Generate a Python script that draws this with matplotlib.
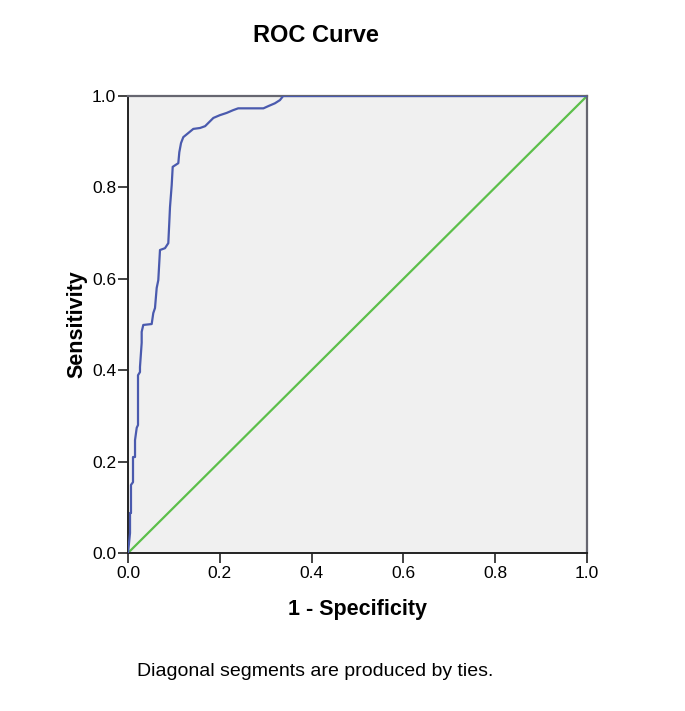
import matplotlib
matplotlib.use("Agg")
import matplotlib.pyplot as plt

# ROC curve vertices (1 - specificity, sensitivity)
fpr = [0.0, 0.0044, 0.0044, 0.0065, 0.0065, 0.0109, 0.0109, 0.0153, 0.0153, 0.019, 0.0218,
       0.0218, 0.0261, 0.0261, 0.0298, 0.0298, 0.0333, 0.0516, 0.0551, 0.0588, 0.0625,
       0.066, 0.0697, 0.0806, 0.0878, 0.090, 0.0915, 0.0952, 0.0974, 0.1096, 0.1118,
       0.1155, 0.1205, 0.1314, 0.1423, 0.157, 0.168, 0.175, 0.186, 0.200, 0.215, 0.229,
       0.240, 0.295, 0.306, 0.320, 0.331, 0.338, 1.0]
tpr = [0.0, 0.0438, 0.0875, 0.0875, 0.149, 0.155, 0.210, 0.210, 0.247, 0.274, 0.280,
       0.389, 0.396, 0.407, 0.460, 0.484, 0.499, 0.501, 0.525, 0.536, 0.580,
       0.597, 0.663, 0.667, 0.678, 0.724, 0.757, 0.805, 0.845, 0.853, 0.877,
       0.897, 0.910, 0.919, 0.928, 0.930, 0.934, 0.941, 0.952, 0.958, 0.963, 0.969,
       0.973, 0.973, 0.978, 0.984, 0.991, 1.0, 1.0]
ref_x = [0.0, 1.0]
ref_y = [0.0, 1.0]
ticks = [0.0, 0.2, 0.4, 0.6, 0.8, 1.0]
tick_labels = ["0.0", "0.2", "0.4", "0.6", "0.8", "1.0"]

plt.rcParams['font.family'] = ['Liberation Sans', 'DejaVu Sans']

fig = plt.figure(figsize=(6.85, 7.11), dpi=100)
fig.patch.set_facecolor('white')
ax = fig.add_axes([128/685, 1 - 553/711, 459/685, 457/711])
ax.set_facecolor('#f0f0f0')

ax.plot(ref_x, ref_y, color='#5cbf4a', lw=1.6, zorder=2)
ax.plot(fpr, tpr, color='#4a5aae', lw=1.6, zorder=3)

ax.set_xlim(0, 1)
ax.set_ylim(0, 1)
ax.set_xticks(ticks)
ax.set_xticklabels(tick_labels)
ax.set_yticks(ticks)
ax.set_yticklabels(tick_labels)
ax.tick_params(direction='out', length=7.5, width=1.2, labelsize=12.5, color='#222222')
ax.tick_params(axis='x', pad=2)
ax.tick_params(axis='y', pad=1)

for s in ['left', 'bottom']:
    ax.spines[s].set_color('#222222')
    ax.spines[s].set_linewidth(1.4)
for s in ['top', 'right']:
    ax.spines[s].set_color('#666670')
    ax.spines[s].set_linewidth(1.6)

fig.text(357/685, 1 - 609/711, '1 - Specificity', fontsize=15.5, fontweight='bold',
         ha='center', va='center')
fig.text(77/685, 1 - 324/711, 'Sensitivity', fontsize=15.5, fontweight='bold',
         ha='center', va='center', rotation=90)

fig.text(316/685, 1 - 36/711, 'ROC Curve', fontsize=17, fontweight='bold',
         ha='center', va='center')
fig.text(137/685, 1 - 671/711, 'Diagonal segments are produced by ties.', fontsize=14,
         ha='left', va='center')

fig.savefig('out.png', dpi=100)
